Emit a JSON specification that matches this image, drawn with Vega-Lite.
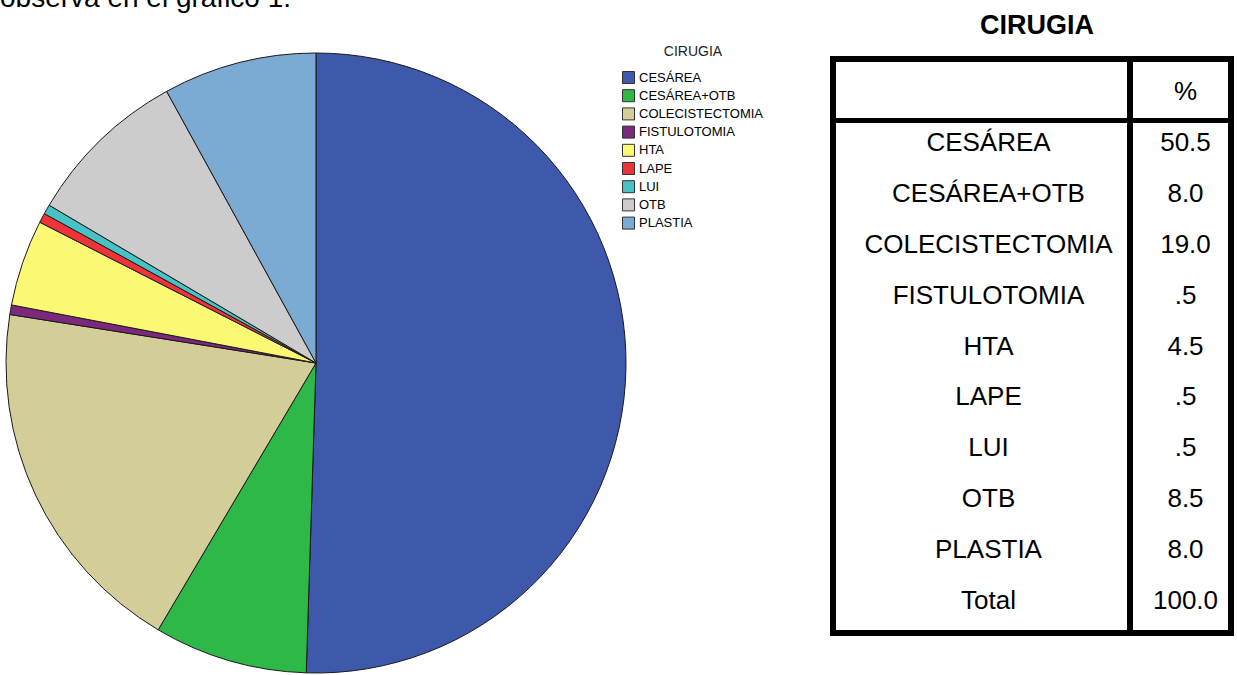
{
  "$schema": "https://vega.github.io/schema/vega-lite/v6.json",
  "padding": {"left": 0, "top": -15, "right": 0, "bottom": 0},
  "bounds": "flush",
  "spacing": 201,
  "config": {
    "font": "Liberation Sans",
    "view": {"stroke": null},
    "title": {"font": "Liberation Sans", "color": "#000000"}
  },
  "datasets": {
    "cirugia": [
      {"cirugia": "CESÁREA", "porcentaje": 50.5},
      {"cirugia": "CESÁREA+OTB", "porcentaje": 8.0},
      {"cirugia": "COLECISTECTOMIA", "porcentaje": 19.0},
      {"cirugia": "FISTULOTOMIA", "porcentaje": 0.5},
      {"cirugia": "HTA", "porcentaje": 4.5},
      {"cirugia": "LAPE", "porcentaje": 0.5},
      {"cirugia": "LUI", "porcentaje": 0.5},
      {"cirugia": "OTB", "porcentaje": 8.5},
      {"cirugia": "PLASTIA", "porcentaje": 8.0}
    ],
    "tabla": [
      {"fila": "", "valor": "%"},
      {"fila": "CESÁREA", "valor": "50.5"},
      {"fila": "CESÁREA+OTB", "valor": "8.0"},
      {"fila": "COLECISTECTOMIA", "valor": "19.0"},
      {"fila": "FISTULOTOMIA", "valor": ".5"},
      {"fila": "HTA", "valor": "4.5"},
      {"fila": "LAPE", "valor": ".5"},
      {"fila": "LUI", "valor": ".5"},
      {"fila": "OTB", "valor": "8.5"},
      {"fila": "PLASTIA", "valor": "8.0"},
      {"fila": "Total", "valor": "100.0"}
    ]
  },
  "hconcat": [
    {
      "width": 632,
      "height": 608,
      "title": {"text": "observa en el gráfico 1.", "anchor": "start", "fontSize": 28, "fontWeight": "normal", "baseline": "alphabetic", "offset": 16},
      "data": {"name": "cirugia"},
      "mark": {"type": "arc", "outerRadius": 310, "stroke": "#1a1a1a", "strokeWidth": 1},
      "encoding": {
        "theta": {"field": "porcentaje", "type": "quantitative", "stack": true},
        "color": {
          "field": "cirugia",
          "type": "nominal",
          "scale": {
            "domain": ["CESÁREA", "CESÁREA+OTB", "COLECISTECTOMIA", "FISTULOTOMIA", "HTA", "LAPE", "LUI", "OTB", "PLASTIA"],
            "range": ["#3E58AC", "#2EB848", "#D3CE97", "#7C287D", "#FBF873", "#EF3338", "#48C2C5", "#CCCCCC", "#7BAAD2"]
          },
          "legend": {
            "orient": "none",
            "legendX": 622,
            "legendY": -14,
            "title": "CIRUGIA",
            "titleFont": "Liberation Sans",
            "titleFontSize": 14,
            "titleFontWeight": "normal",
            "titleColor": "#222222",
            "titleAnchor": "middle",
            "titlePadding": 12,
            "labelFont": "Liberation Sans",
            "labelFontSize": 13,
            "labelColor": "#000000",
            "labelOffset": 4,
            "symbolType": "square",
            "symbolSize": 144,
            "symbolStrokeColor": "#333333",
            "symbolStrokeWidth": 1,
            "symbolOpacity": 1,
            "rowPadding": 1.2
          }
        }
      }
    },
    {
      "title": {"text": "CIRUGIA", "fontSize": 27, "fontWeight": "bold", "anchor": "middle", "baseline": "alphabetic", "offset": -5, "dx": 5},
      "spacing": 0,
      "bounds": "flush",
      "hconcat": [
        {
          "width": 297,
          "height": 574,
          "view": {"stroke": "#000000", "strokeWidth": 6},
          "data": {"name": "tabla"},
          "layer": [
            {
              "mark": {"type": "text", "fontSize": 26, "dx": 7, "color": "#000000"},
              "encoding": {
                "y": {
                  "field": "fila",
                  "type": "nominal",
                  "scale": {"type": "point", "domain": ["", "CESÁREA", "CESÁREA+OTB", "COLECISTECTOMIA", "FISTULOTOMIA", "HTA", "LAPE", "LUI", "OTB", "PLASTIA", "Total"], "range": [33, 542], "padding": 0},
                  "axis": null
                },
                "text": {"field": "fila"}
              }
            },
            {
              "mark": {"type": "rule", "strokeWidth": 5, "color": "#000000", "yOffset": -22.5},
              "encoding": {"y": {"datum": "CESÁREA", "type": "nominal"}}
            }
          ]
        },
        {
          "width": 101,
          "height": 574,
          "view": {"stroke": "#000000", "strokeWidth": 6},
          "data": {"name": "tabla"},
          "layer": [
            {
              "mark": {"type": "text", "fontSize": 26, "dx": 5, "color": "#000000"},
              "encoding": {
                "y": {
                  "field": "fila",
                  "type": "nominal",
                  "scale": {"type": "point", "domain": ["", "CESÁREA", "CESÁREA+OTB", "COLECISTECTOMIA", "FISTULOTOMIA", "HTA", "LAPE", "LUI", "OTB", "PLASTIA", "Total"], "range": [33, 542], "padding": 0},
                  "axis": null
                },
                "text": {"field": "valor"}
              }
            },
            {
              "mark": {"type": "rule", "strokeWidth": 5, "color": "#000000", "yOffset": -22.5},
              "encoding": {"y": {"datum": "CESÁREA", "type": "nominal"}}
            }
          ]
        }
      ]
    }
  ]
}
